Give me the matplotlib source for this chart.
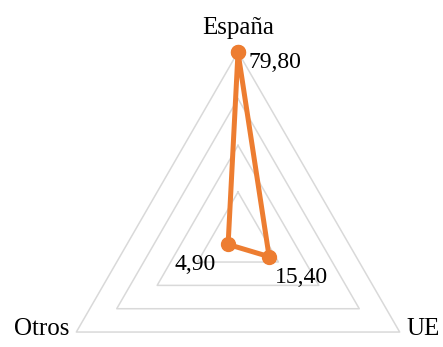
import numpy as np
import matplotlib
matplotlib.use("Agg")
import matplotlib.pyplot as plt

categories = ["España", "UE", "Otros"]
values = [79.80, 15.40, 4.90]
value_labels = ["79,80", "15,40", "4,90"]
grid_levels = [20, 40, 60, 80]
r_max = 80

ORANGE = "#ED7D31"
GRID = "#D9D9D9"
FONT = "Liberation Serif"
FS_CAT = 18
FS_VAL = 17

W, H, DPI = 443, 347, 100
fig = plt.figure(figsize=(W / DPI, H / DPI), dpi=DPI)

# polar axes placed so the outer triangle fills the canvas
cx, cy, R = 238, 238.7, 186.7
ax = fig.add_axes([(cx - R) / W, (H - cy - R) / H, 2 * R / W, 2 * R / H],
                  projection="polar")
ax.set_theta_offset(np.pi / 2)
ax.set_theta_direction(-1)
ax.set_ylim(0, r_max)
ax.grid(False)
ax.spines["polar"].set_visible(False)
ax.set_xticks([])
ax.set_yticks([])
ax.patch.set_visible(False)

n = len(categories)
angles = [2 * np.pi * i / n for i in range(n)]
closed_angles = angles + angles[:1]

# triangular grid
for lvl in grid_levels:
    ax.plot(closed_angles, [lvl] * (n + 1), color=GRID, lw=1.1,
            clip_on=False, zorder=1)

# data series
ax.plot(closed_angles, values + values[:1], color=ORANGE, lw=3.6,
        marker="o", markersize=10, clip_on=False, zorder=3,
        solid_joinstyle="round")

px = 0.72  # points per pixel at 100 dpi

# category labels at the outer vertices
cat_offsets = [((0, 18), "center"), ((7, -3), "left"), ((-7, -3), "right")]
for ang, name, (off, ha) in zip(angles, categories, cat_offsets):
    ax.annotate(name, xy=(ang, r_max), xytext=(off[0] * px, off[1] * px),
                textcoords="offset points", ha=ha, va="baseline",
                fontsize=FS_CAT, family=FONT, color="#000000",
                annotation_clip=False)

# value labels next to the points
val_offsets = [((10, -16), "left"), ((6, -26), "left"), ((-12, -26), "right")]
for ang, v, lab, (off, ha) in zip(angles, values, value_labels, val_offsets):
    ax.annotate(lab, xy=(ang, v), xytext=(off[0] * px, off[1] * px),
                textcoords="offset points", ha=ha, va="baseline",
                fontsize=FS_VAL, family=FONT, color="#000000",
                annotation_clip=False, zorder=4)

fig.savefig("out.png", dpi=DPI)
